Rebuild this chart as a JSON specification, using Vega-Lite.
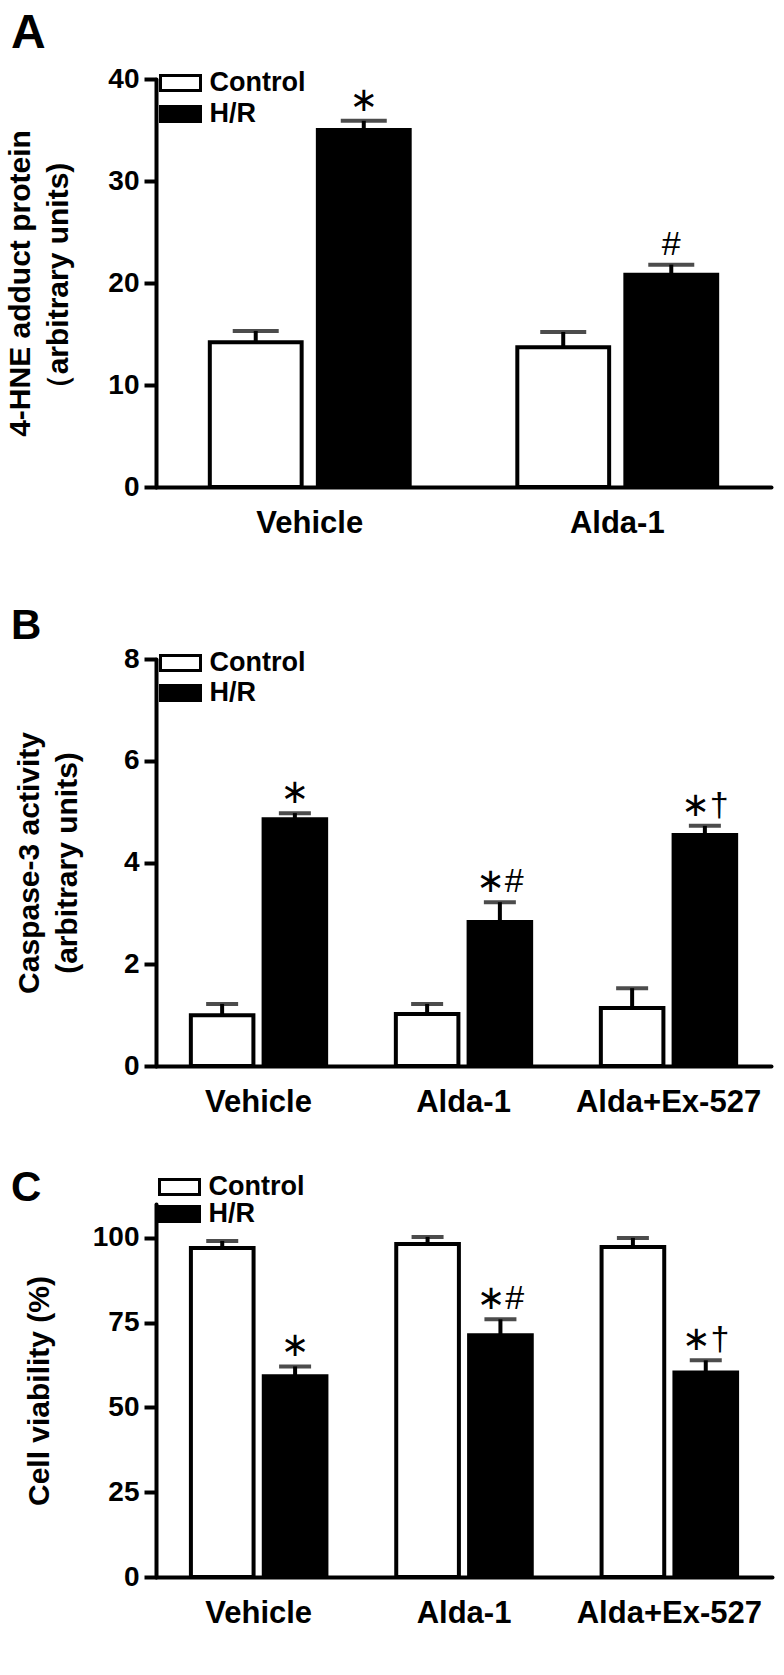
{
  "$schema": "https://vega.github.io/schema/vega-lite/v6.json",
  "padding": {"left": 5, "top": 10, "right": 8, "bottom": 10},
  "background": "white",
  "config": {
    "font": "Liberation Sans",
    "view": {"stroke": null},
    "axis": {
      "domainColor": "black", "domainWidth": 4, "domainCap": "round",
      "tickColor": "black", "tickWidth": 4,
      "labelFont": "Liberation Sans", "labelFontWeight": "bold", "labelColor": "black",
      "titleFont": "Liberation Sans", "titleFontWeight": "bold", "titleColor": "black",
      "grid": false
    },
    "legend": {
      "labelFont": "Liberation Sans", "labelFontWeight": "bold", "labelColor": "black",
      "labelFontSize": 27, "labelOffset": 15.5,
      "symbolType": "M-2.667,-1H2.667V1H-2.667Z", "symbolSize": 225,
      "symbolStrokeColor": "black", "symbolStrokeWidth": 3
    },
    "title": {"font": "Liberation Sans", "fontWeight": "bold", "color": "black", "anchor": "start", "frame": "group", "baseline": "alphabetic"}
  },
  "resolve": {"scale": {"xOffset": "independent", "fill": "independent"}, "legend": {"fill": "independent"}},
  "datasets": {
    "A": [
      {"treatment": "Vehicle", "group": "Control", "mean": 14.2, "upper": 15.3, "sig": ""},
      {"treatment": "Vehicle", "group": "H/R", "mean": 35.0, "upper": 35.9, "sig": "∗"},
      {"treatment": "Alda-1", "group": "Control", "mean": 13.7, "upper": 15.2, "sig": ""},
      {"treatment": "Alda-1", "group": "H/R", "mean": 20.8, "upper": 21.8, "sig": "#"}
    ],
    "B": [
      {"treatment": "Vehicle", "group": "Control", "mean": 1.0, "upper": 1.22, "sig": ""},
      {"treatment": "Vehicle", "group": "H/R", "mean": 4.85, "upper": 4.97, "sig": "∗"},
      {"treatment": "Alda-1", "group": "Control", "mean": 1.02, "upper": 1.22, "sig": ""},
      {"treatment": "Alda-1", "group": "H/R", "mean": 2.83, "upper": 3.22, "sig": "∗#"},
      {"treatment": "Alda+Ex-527", "group": "Control", "mean": 1.14, "upper": 1.53, "sig": ""},
      {"treatment": "Alda+Ex-527", "group": "H/R", "mean": 4.54, "upper": 4.72, "sig": "∗†"}
    ],
    "C": [
      {"treatment": "Vehicle", "group": "Control", "mean": 97.0, "upper": 99.1, "sig": ""},
      {"treatment": "Vehicle", "group": "H/R", "mean": 59.2, "upper": 62.1, "sig": "∗"},
      {"treatment": "Alda-1", "group": "Control", "mean": 98.2, "upper": 100.3, "sig": ""},
      {"treatment": "Alda-1", "group": "H/R", "mean": 71.3, "upper": 76.0, "sig": "∗#"},
      {"treatment": "Alda+Ex-527", "group": "Control", "mean": 97.3, "upper": 100.0, "sig": ""},
      {"treatment": "Alda+Ex-527", "group": "H/R", "mean": 60.3, "upper": 63.9, "sig": "∗†"}
    ]
  },
  "spacing": 49,
  "vconcat": [
    {
      "title": {"text": "A", "fontSize": 48, "dx": -145, "offset": 7},
      "width": 615, "height": 408,
      "data": {"name": "A"},
      "encoding": {
        "x": {"field": "treatment", "type": "nominal", "sort": ["Vehicle", "Alda-1"],
              "scale": {"paddingInner": 0.35, "paddingOuter": 0.175},
              "axis": {"title": " ", "titleFontSize": 18, "titlePadding": 0, "ticks": false, "labelAngle": 0, "labelFontSize": 31, "labelPadding": 21, "labelLimit": 400}},
        "xOffset": {"field": "group", "type": "nominal", "sort": ["Control", "H/R"], "scale": {"paddingInner": 0.15}}
      },
      "layer": [
        {"mark": {"type": "bar", "stroke": "black", "strokeWidth": 4},
         "encoding": {
           "y": {"field": "mean", "type": "quantitative", "scale": {"domain": [0, 40]},
                 "axis": {"title": ["4-HNE adduct protein", "（arbitrary units)"], "titleFontSize": 30, "titleLineHeight": 38, "titlePadding": 34,
                          "values": [0, 10, 20, 30, 40], "labelFontSize": 28, "labelPadding": 5, "tickSize": 12}},
           "fill": {"field": "group", "type": "nominal", "scale": {"domain": ["Control", "H/R"], "range": ["white", "black"]},
                    "legend": {"title": null, "orient": "none", "legendX": 11, "legendY": -9.5, "rowPadding": 3}}
         }},
        {"mark": {"type": "rule", "color": "black", "strokeWidth": 4},
         "encoding": {"y": {"field": "mean", "type": "quantitative"}, "y2": {"field": "upper"}}},
        {"mark": {"type": "tick", "color": "black", "thickness": 4, "size": 46},
         "encoding": {"y": {"field": "upper", "type": "quantitative"}}},
        {"mark": {"type": "text", "color": "black", "font": "Liberation Sans, DejaVu Sans", "fontSize": 34, "baseline": "bottom", "dy": -3},
         "encoding": {"y": {"field": "upper", "type": "quantitative"}, "text": {"field": "sig"}}}
      ]
    },
    {
      "title": {"text": "B", "fontSize": 42, "dx": -145, "offset": -3},
      "width": 615, "height": 407,
      "data": {"name": "B"},
      "encoding": {
        "x": {"field": "treatment", "type": "nominal", "sort": ["Vehicle", "Alda-1", "Alda+Ex-527"],
              "scale": {"paddingInner": 0.34, "paddingOuter": 0.17},
              "axis": {"title": null, "ticks": false, "labelAngle": 0, "labelFontSize": 31, "labelPadding": 21, "labelLimit": 400}},
        "xOffset": {"field": "group", "type": "nominal", "sort": ["Control", "H/R"], "scale": {"paddingInner": 0.14}}
      },
      "layer": [
        {"mark": {"type": "bar", "stroke": "black", "strokeWidth": 4},
         "encoding": {
           "y": {"field": "mean", "type": "quantitative", "scale": {"domain": [0, 8]},
                 "axis": {"title": ["Caspase-3 activity", "(arbitrary units)"], "titleFontSize": 30, "titleLineHeight": 38, "titlePadding": 41,
                          "values": [0, 2, 4, 6, 8], "labelFontSize": 28, "labelPadding": 5, "tickSize": 12}},
           "fill": {"field": "group", "type": "nominal", "scale": {"domain": ["Control", "H/R"], "range": ["white", "black"]},
                    "legend": {"title": null, "orient": "none", "legendX": 11, "legendY": -9.5, "rowPadding": 2}}
         }},
        {"mark": {"type": "rule", "color": "black", "strokeWidth": 4},
         "encoding": {"y": {"field": "mean", "type": "quantitative"}, "y2": {"field": "upper"}}},
        {"mark": {"type": "tick", "color": "black", "thickness": 4, "size": 32},
         "encoding": {"y": {"field": "upper", "type": "quantitative"}}},
        {"mark": {"type": "text", "color": "black", "font": "Liberation Sans, DejaVu Sans", "fontSize": 34, "baseline": "bottom", "dy": -3},
         "encoding": {"y": {"field": "upper", "type": "quantitative"}, "text": {"field": "sig"}}}
      ]
    },
    {
      "title": {"text": "C", "fontSize": 42, "dx": -145, "offset": -36},
      "width": 616, "height": 373,
      "data": {"name": "C"},
      "encoding": {
        "x": {"field": "treatment", "type": "nominal", "sort": ["Vehicle", "Alda-1", "Alda+Ex-527"],
              "scale": {"paddingInner": 0.34, "paddingOuter": 0.17},
              "axis": {"title": null, "ticks": false, "labelAngle": 0, "labelFontSize": 31, "labelPadding": 21, "labelLimit": 400}},
        "xOffset": {"field": "group", "type": "nominal", "sort": ["Control", "H/R"], "scale": {"paddingInner": 0.14}}
      },
      "layer": [
        {"mark": {"type": "bar", "stroke": "black", "strokeWidth": 4},
         "encoding": {
           "y": {"field": "mean", "type": "quantitative", "scale": {"domain": [0, 110]},
                 "axis": {"title": "Cell viability (%)", "titleFontSize": 30, "titlePadding": 38,
                          "values": [0, 25, 50, 75, 100], "labelFontSize": 28, "labelPadding": 5, "tickSize": 12}},
           "fill": {"field": "group", "type": "nominal", "scale": {"domain": ["Control", "H/R"], "range": ["white", "black"]},
                    "legend": {"title": null, "orient": "none", "legendX": 10, "legendY": -30.5, "rowPadding": -3}}
         }},
        {"mark": {"type": "rule", "color": "black", "strokeWidth": 4},
         "encoding": {"y": {"field": "mean", "type": "quantitative"}, "y2": {"field": "upper"}}},
        {"mark": {"type": "tick", "color": "black", "thickness": 4, "size": 32},
         "encoding": {"y": {"field": "upper", "type": "quantitative"}}},
        {"mark": {"type": "text", "color": "black", "font": "Liberation Sans, DejaVu Sans", "fontSize": 34, "baseline": "bottom", "dy": -3},
         "encoding": {"y": {"field": "upper", "type": "quantitative"}, "text": {"field": "sig"}}}
      ]
    }
  ]
}
